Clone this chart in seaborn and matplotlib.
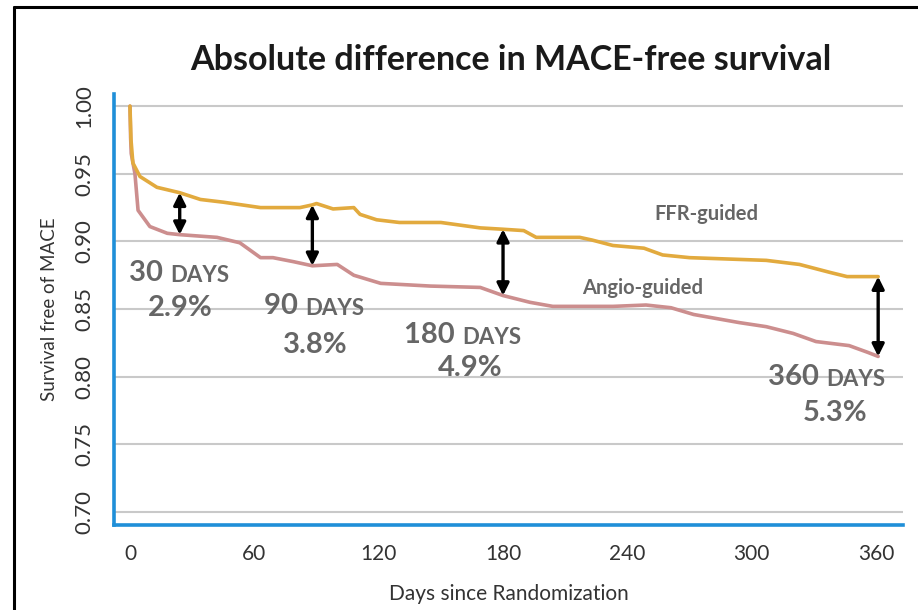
#!/usr/bin/env python3
"""
Absolute difference in MACE-free survival (FFR- vs angio-guided).
Writes out.png
"""

import numpy as np
import pandas as pd
import matplotlib
matplotlib.use('Agg')
import matplotlib.pyplot as plt
from matplotlib.lines import Line2D
import seaborn as sns

# FFR-guided curve (days, survival)
ffr_days = [0, 0.5, 1.4, 4.8, 13, 24, 34, 45, 63, 82, 88, 90, 98, 108, 111, 119, 130,
            150, 169, 180, 190, 196, 217, 223, 233, 248, 257, 270, 307, 323, 338,
            346, 352, 361]
ffr_surv = [1.0, 0.975, 0.958, 0.948, 0.940, 0.936, 0.931, 0.929, 0.925, 0.925, 0.927,
            0.928, 0.924, 0.925, 0.920, 0.916, 0.914, 0.914, 0.910, 0.909, 0.908,
            0.903, 0.903, 0.901, 0.897, 0.895, 0.890, 0.888, 0.886, 0.883, 0.877,
            0.874, 0.874, 0.874]

# Angio-guided curve (days, survival)
angio_days = [0, 0.3, 0.6, 2.4, 3.9, 9.6, 18, 24, 42, 53, 63, 69, 79, 88, 100, 108,
              121, 145, 169, 180, 193, 204, 233, 249, 261, 272, 294, 307, 320, 331,
              347, 356, 361]
angio_surv = [1.0, 0.977, 0.965, 0.950, 0.923, 0.911, 0.906, 0.905, 0.903, 0.899,
              0.888, 0.888, 0.885, 0.882, 0.883, 0.875, 0.869, 0.867, 0.866, 0.860,
              0.855, 0.852, 0.852, 0.853, 0.851, 0.846, 0.840, 0.837, 0.832, 0.826,
              0.823, 0.818, 0.815]

# difference call-outs
arrow_days = [24, 88, 180, 361]
arrow_labels = ['30', '90', '180', '360']
arrow_pcts = ['2.9%', '3.8%', '4.9%', '5.3%']

x_ticks = [0, 60, 120, 180, 240, 300, 360]
y_ticks = [0.70, 0.75, 0.80, 0.85, 0.90, 0.95, 1.00]

GOLD = '#E2AA3E'
PINK = '#CC8E8E'
BLUE = '#1F8FD8'
GREY = '#666666'
GRID = '#C9C9C9'


def main():
    sns.set_style('white')
    plt.rcParams['font.family'] = ['Lato', 'DejaVu Sans']

    fig = plt.figure(figsize=(9.18, 6.10), dpi=100)
    ax = fig.add_axes([0.1242, 0.1393, 0.9837 - 0.1242, 0.846 - 0.1393])

    df = pd.concat([
        pd.DataFrame({'day': ffr_days, 'surv': ffr_surv, 'arm': 'FFR-guided'}),
        pd.DataFrame({'day': angio_days, 'surv': angio_surv, 'arm': 'Angio-guided'}),
    ])
    sns.lineplot(data=df, x='day', y='surv', hue='arm',
                 palette={'FFR-guided': GOLD, 'Angio-guided': PINK},
                 hue_order=['Angio-guided', 'FFR-guided'],
                 linewidth=2.6, legend=False, ax=ax, sort=False)

    ax.set_xlim(-7.7, 373)
    ax.set_ylim(0.6904, 1.009)
    ax.set_xticks(x_ticks)
    ax.set_yticks(y_ticks)
    ax.set_yticklabels([f'{v:.2f}' for v in y_ticks], rotation=90, va='center')
    ax.tick_params(axis='both', colors=BLUE, length=5, width=1.2, labelcolor='#333333',
                   direction='out')
    ax.tick_params(axis='y', pad=9, labelsize=16)
    ax.tick_params(axis='x', pad=9, labelsize=15)

    ax.grid(axis='y', color=GRID, linewidth=1.5)
    ax.set_axisbelow(True)
    for s in ['top', 'right']:
        ax.spines[s].set_visible(False)
    for s in ['left', 'bottom']:
        ax.spines[s].set_color(BLUE)
        ax.spines[s].set_linewidth(2.6)

    ax.set_xlabel('Days since Randomization', fontsize=15, color='#333333', labelpad=14)
    ax.set_ylabel('Survival free of MACE', fontsize=13.5, color='#333333', labelpad=12)

    # arrows between curves
    for d in arrow_days:
        top = np.interp(d, ffr_days, ffr_surv)
        bot = np.interp(d, angio_days, angio_surv)
        ax.annotate('', xy=(d, bot), xytext=(d, top),
                    arrowprops=dict(arrowstyle='<|-|>', color='black', lw=2.4,
                                    mutation_scale=18, shrinkA=0, shrinkB=0))

    # call-out labels (pixel positions converted to data units)
    label_pos = [(170, 273, 180, 308), (305, 306, 315, 345),
                 (462, 335, 470, 368), (826, 377, 835, 413)]
    for (lx, ly, px, py), num, pct in zip(label_pos, arrow_labels, arrow_pcts):
        xd = -7.7 + (lx - 114) / 2.073
        yd = 1.0 - (ly - 106) / 1354.0
        t = ax.text(xd, yd, num + ' ', fontsize=21, fontweight='bold', color=GREY,
                    ha='right', va='center')
        ax.annotate('DAYS', xy=(1, 0), xycoords=t, fontsize=16, fontweight='bold',
                    color=GREY, ha='left', va='bottom')
        pxd = -7.7 + (px - 114) / 2.073
        pyd = 1.0 - (py - 106) / 1354.0
        ax.text(pxd, pyd, pct, fontsize=21, fontweight='bold', color=GREY,
                ha='center', va='center')

    ax.text(278, 0.9206, 'FFR-guided', fontsize=14.5, fontweight='bold', color=GREY,
            ha='center', va='center')
    ax.text(247.5, 0.8655, 'Angio-guided', fontsize=14.5, fontweight='bold', color=GREY,
            ha='center', va='center')

    fig.text(0.556, 0.902, 'Absolute difference in MACE-free survival',
             fontsize=24.5, fontweight='bold', color='#1a1a1a', ha='center', va='center')

    # outer frame (top + left)
    fig.add_artist(Line2D([0.0153, 1.0], [0.9885, 0.9885], color='black', lw=2.2,
                          transform=fig.transFigure))
    fig.add_artist(Line2D([0.0153, 0.0153], [0.0, 0.9885], color='black', lw=2.2,
                          transform=fig.transFigure))

    fig.savefig('out.png', dpi=100)
    plt.close(fig)


if __name__ == '__main__':
    main()
